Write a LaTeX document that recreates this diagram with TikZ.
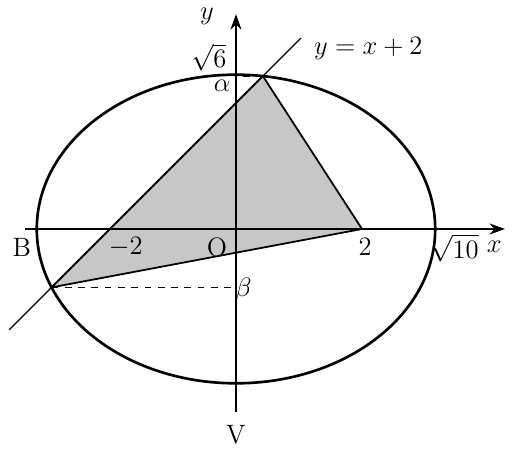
\documentclass[tikz,border=0pt]{standalone}
\usetikzlibrary{arrows.meta}
\begin{document}
\begin{tikzpicture}[x=1cm,y=1cm,
	lbl/.style={inner sep=0pt,font=\large},
	axis/.style={line width=0.5pt,-{Stealth[length=7pt,width=5pt]}}]
	\useasboundingbox (-3.746,-3.556) rectangle (4.556,3.635);

	% punkty przeciecia
	\coordinate (A) at (0.42705,2.42705);
	\coordinate (C) at (-2.92705,-0.92705);
	\coordinate (D) at (2,0);
	\coordinate (O) at (0,0);

	\filldraw[fill=black!22,line width=0.8pt] (A) -- (D) -- (C) -- cycle;

	\draw[axis](-3.35,0)--(4.27,0);
	\draw[axis](0,-2.91)--(0,3.41);
	\draw[line width=0.6pt](-3.6,-1.6)--(1.03,3.03);

	\draw[dashed,line width=0.4pt] (C) -- (0,-0.92705);
	\draw[dashed,line width=0.4pt] (A) -- (0,2.42705);

	\draw[line width=1.2pt] (O) ellipse [x radius={sqrt(10)}, y radius={sqrt(6)}];
	% koniec rysunku

	\node[lbl] (ly) at (-0.46,3.38) {$y$};
	\node[lbl] (lx) at (4.10,-0.29) {$x$};
	\node[lbl] (lB) at (-3.40,-0.29) {B};
	\node[lbl] (lm2) at (-1.75,-0.29) {$-2$};
	\node[lbl] (lO) at (-0.30,-0.29) {O};
	\node[lbl] (l2) at (2.05,-0.29) {$2$};
	\node[lbl] (l10) at (3.47,-0.30) {$\sqrt{10}$};
	\node[lbl] (l6) at (-0.43,2.72) {$\sqrt{6}$};
	\node[lbl] (lal) at (-0.22,2.27) {$\alpha$};
	\node[lbl] (lbe) at (0.12,-0.97) {$\beta$};
	\node[lbl] (lV) at (0,-3.27) {V};
	\node[lbl] (lf) at (2.10,2.87) {$y=x+2$};
\end{tikzpicture}
\end{document}
